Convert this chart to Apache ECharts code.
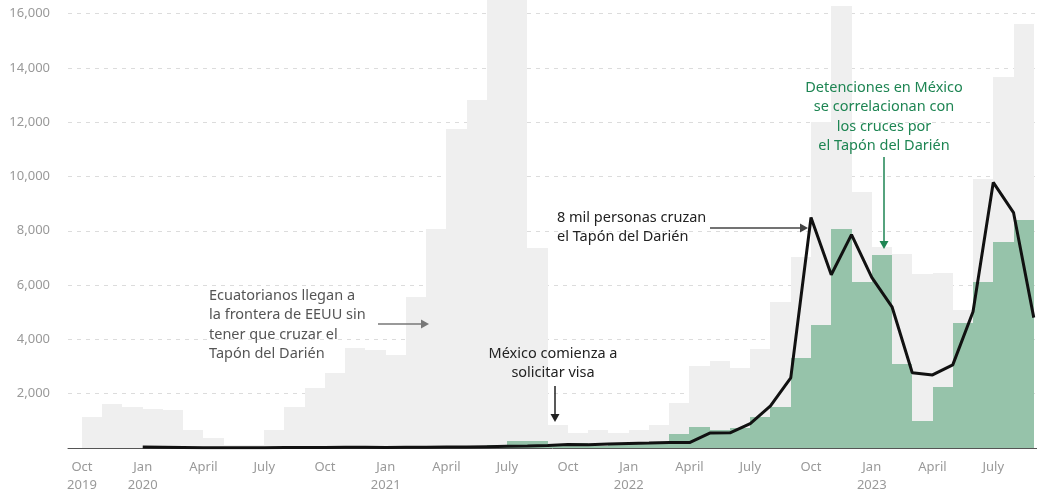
<!DOCTYPE html>
<html><head><meta charset="utf-8">
<script src="https://cdn.jsdelivr.net/npm/echarts@6/dist/echarts.min.js"></script>
<style>html,body{margin:0;padding:0;background:#fff}#c{width:1037px;height:496px}</style>
</head><body><div id="c"></div>
<script>
// Months: index 0 = Oct 2019 ... index 47 = Sep 2023
const months = ['2019-10','2019-11','2019-12','2020-01','2020-02','2020-03','2020-04','2020-05','2020-06','2020-07','2020-08','2020-09','2020-10','2020-11','2020-12','2021-01','2021-02','2021-03','2021-04','2021-05','2021-06','2021-07','2021-08','2021-09','2021-10','2021-11','2021-12','2022-01','2022-02','2022-03','2022-04','2022-05','2022-06','2022-07','2022-08','2022-09','2022-10','2022-11','2022-12','2023-01','2023-02','2023-03','2023-04','2023-05','2023-06','2023-07','2023-08','2023-09'];
// Ecuadorians encountered at the US border (gray bars)
const usBorder = [1150,1620,1520,1430,1400,660,370,100,100,660,1510,2210,2770,3690,3620,3430,5570,8080,11730,12800,17200,17600,7380,850,550,680,560,680,850,1650,3030,3210,2950,3650,5390,7050,11990,16270,9410,7400,7150,6420,6460,5100,9890,13650,15610];
// Detentions in Mexico (green bars)
const mexicoDet = [0,0,0,0,0,0,0,0,0,0,0,0,0,0,0,0,0,0,0,0,100,250,250,60,180,80,200,180,220,520,770,660,740,1150,1510,3320,4540,8080,6100,7100,3100,1000,2230,4610,6100,7600,8410];
// Darién Gap crossings (black line)
const darien = [null,null,null,40,30,20,10,10,10,10,20,20,20,30,30,20,30,30,40,40,50,60,70,90,130,120,150,170,180,200,200,550,560,900,1550,2580,8490,6380,7860,6280,5200,2770,2690,3060,5020,9780,8670,4800];
// X tick labels
const tickIdx = [0,3,6,9,12,15,18,21,24,27,30,33,36,39,42,45];
const tickLabels = ['Oct\n2019','Jan\n2020','April','July','Oct','Jan\n2021','April','July','Oct','Jan\n2022','April','July','Oct','Jan\n2023','April','July'];

const FONT = '"Noto Sans", "Open Sans", sans-serif';
const chart = echarts.init(document.getElementById('c'), null, {renderer:'canvas'});

function barSeries(name, values, color, z) {
  return {
    type: 'custom', name, z,
    data: values.map((v, i) => [i, v]),
    encode: {x: 0, y: 1},
    renderItem(params, api) {
      const i = api.value(0), v = api.value(1);
      if (!v) return null;
      const a = api.coord([i, v]), b = api.coord([i + 1, 0]);
      const x0 = Math.round(a[0]), x1 = Math.round(b[0]);
      const top = Math.max(Math.round(a[1]), 0), bot = Math.round(b[1]);
      return {type: 'rect', shape: {x: x0, y: top, width: x1 - x0, height: bot - top}, style: {fill: color}};
    }
  };
}

function arrow(x1, y1, x2, y2, color, w) {
  const ang = Math.atan2(y2 - y1, x2 - x1), L = 8, H = 4.5;
  const bx = x2 - L * Math.cos(ang), by = y2 - L * Math.sin(ang);
  const px = -Math.sin(ang) * H, py = Math.cos(ang) * H;
  return [
    {type: 'line', shape: {x1, y1, x2: bx, y2: by}, style: {stroke: color, lineWidth: w}, z: 100},
    {type: 'polygon', shape: {points: [[x2, y2], [bx + px, by + py], [bx - px, by - py]]}, style: {fill: color}, z: 100}
  ];
}
function txt(text, x, y, color, align) {
  return {type: 'text', z: 100, style: {text, x, y, fill: color, font: '14.5px ' + FONT, align: align, verticalAlign: 'top', lineHeight: 19.5}};
}

chart.setOption({
  animation: false,
  grid: {left: 68, right: 0, top: 13.5, bottom: 48},
  xAxis: {
    type: 'value', min: -0.69, max: 47.16,
    axisLine: {show: true, onZero: true, lineStyle: {color: '#555', width: 1}},
    axisTick: {show: false}, splitLine: {show: false},
    axisLabel: {
      customValues: tickIdx,
      formatter: v => { const k = tickIdx.indexOf(Math.round(v)); return k >= 0 ? tickLabels[k] : ''; },
      color: '#999', fontSize: 13, lineHeight: 18, margin: 10, fontFamily: FONT
    }
  },
  yAxis: {
    type: 'value', min: 0, max: 16000, interval: 2000,
    axisLine: {show: false}, axisTick: {show: false},
    splitLine: {show: true, lineStyle: {color: '#dcdcdc', type: [4, 5], width: 1}},
    axisLabel: {color: '#999', fontSize: 13, margin: 18, fontFamily: FONT,
      formatter: v => v === 0 ? '' : v.toLocaleString('en-US')}
  },
  series: [
    barSeries('EEUU', usBorder, '#efefef', 1),
    barSeries('México', mexicoDet, '#96c3aa', 2),
    {type: 'line', name: 'Darién', z: 5, data: darien.map((v, i) => [i, v == null ? '-' : v]),
      showSymbol: false, connectNulls: false, lineStyle: {color: '#111', width: 3}, itemStyle: {color: '#111'}}
  ],
  graphic: [
    txt('Ecuatorianos llegan a\nla frontera de EEUU sin\ntener que cruzar el\nTapón del Darién', 209, 286, '#555', 'left'),
    ...arrow(378, 324, 429, 324, '#777', 1.5),
    txt('México comienza a\nsolicitar visa', 553, 344, '#222', 'center'),
    ...arrow(555, 386, 555, 422, '#222', 1.5),
    txt('8 mil personas cruzan\nel Tapón del Darién', 557, 208, '#222', 'left'),
    ...arrow(710, 228, 808, 228, '#444', 1.5),
    txt('Detenciones en México\nse correlacionan con\nlos cruces por\nel Tapón del Darién', 884, 78, '#1e8553', 'center'),
    ...arrow(884, 157, 884, 249, '#1e8553', 1.5)
  ]
});
</script></body></html>
